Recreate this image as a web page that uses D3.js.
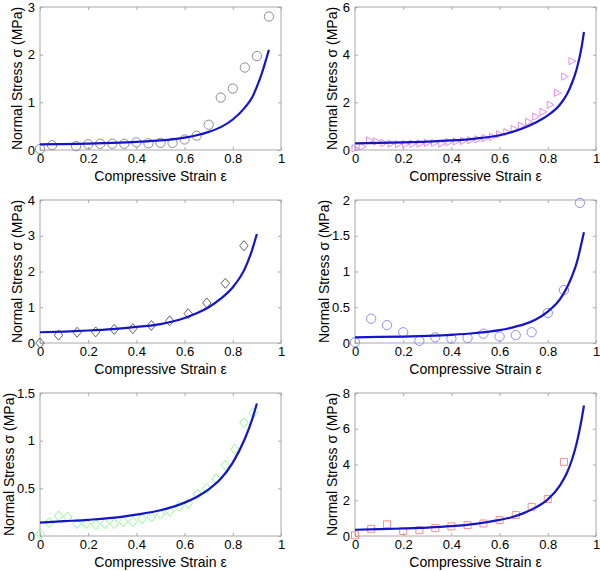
<!DOCTYPE html>
<html><head><meta charset="utf-8">
<script src="https://cdn.jsdelivr.net/npm/d3@7"></script>
<style>body{margin:0;background:#fff}svg{display:block}text{font-family:"Liberation Sans",Arial,sans-serif;fill:#000}</style>
</head><body><svg id="c" width="600" height="571"></svg>
<script>
const xTicks = [0, 0.2, 0.4, 0.6, 0.8, 1];
const xLabel = "Compressive Strain \u03b5";
const yLabel = "Normal Stress \u03c3 (MPa)";

// Panel 1 (circles, gray)
const p1Strain = [0,0.05,0.15,0.2,0.25,0.3,0.35,0.4,0.45,0.5,0.55,0.6,0.65,0.7,0.75,0.8,0.85,0.9,0.95];
const p1Stress = [0.02,0.1,0.08,0.12,0.13,0.13,0.13,0.16,0.14,0.15,0.15,0.22,0.3,0.53,1.1,1.29,1.73,1.97,2.8];
const p1FitStrain = [0,0.1,0.2,0.3,0.4,0.5,0.6,0.65,0.7,0.75,0.8,0.85,0.88,0.9,0.92,0.94,0.95];
const p1FitStress = [0.12,0.125,0.135,0.15,0.17,0.2,0.26,0.31,0.38,0.48,0.64,0.89,1.1,1.33,1.6,1.93,2.1];
const p1YTicks = [0,1,2,3];

// Panel 2 (right triangles, magenta)
const p2Strain = [0,0.03,0.06,0.09,0.12,0.15,0.18,0.21,0.24,0.27,0.3,0.33,0.36,0.39,0.42,0.45,0.48,0.51,0.54,0.57,0.6,0.63,0.66,0.69,0.72,0.75,0.78,0.81,0.84,0.87,0.9];
const p2Stress = [0.07,0.14,0.4,0.36,0.3,0.27,0.25,0.25,0.26,0.27,0.3,0.3,0.27,0.33,0.36,0.38,0.41,0.45,0.5,0.55,0.66,0.75,0.88,1.02,1.18,1.4,1.6,1.9,2.4,3.08,3.73];
const p2FitStrain = [0,0.1,0.2,0.3,0.4,0.5,0.6,0.65,0.7,0.75,0.8,0.85,0.88,0.9,0.92,0.94,0.95];
const p2FitStress = [0.28,0.3,0.32,0.35,0.4,0.48,0.62,0.75,0.92,1.15,1.45,1.9,2.35,2.8,3.4,4.3,4.95];
const p2YTicks = [0,2,4,6];

// Panel 3 (diamonds, dark gray)
const p3Strain = [0,0.077,0.154,0.231,0.308,0.385,0.462,0.538,0.615,0.692,0.769,0.846];
const p3Stress = [0,0.22,0.3,0.31,0.38,0.4,0.49,0.62,0.82,1.12,1.67,2.72];
const p3FitStrain = [0,0.1,0.2,0.3,0.4,0.5,0.6,0.65,0.7,0.75,0.8,0.85,0.88,0.9];
const p3FitStress = [0.3,0.32,0.35,0.39,0.45,0.53,0.7,0.83,1.0,1.24,1.56,2.08,2.6,3.05];
const p3YTicks = [0,1,2,3,4];

// Panel 4 (circles, blue)
const p4Strain = [0,0.067,0.133,0.2,0.267,0.333,0.4,0.467,0.533,0.6,0.667,0.733,0.8,0.867,0.933];
const p4Stress = [0.01,0.34,0.25,0.15,0.03,0.08,0.06,0.07,0.13,0.09,0.11,0.15,0.42,0.74,1.96];
const p4FitStrain = [0,0.1,0.2,0.3,0.4,0.5,0.6,0.65,0.7,0.75,0.8,0.85,0.88,0.9,0.92,0.94,0.95];
const p4FitStress = [0.08,0.085,0.09,0.1,0.115,0.14,0.18,0.215,0.26,0.33,0.44,0.61,0.78,0.93,1.12,1.4,1.55];
const p4YTicks = [0,0.5,1,1.5,2];

// Panel 5 (diamonds, green)
const p5Strain = [0,0.038,0.077,0.115,0.154,0.192,0.231,0.269,0.308,0.346,0.385,0.423,0.462,0.5,0.538,0.577,0.615,0.654,0.692,0.731,0.769,0.808,0.846,0.885];
const p5Stress = [0.02,0.14,0.21,0.2,0.13,0.13,0.12,0.13,0.13,0.15,0.15,0.18,0.2,0.23,0.26,0.31,0.34,0.44,0.5,0.6,0.74,0.91,1.19,1.29];
const p5FitStrain = [0,0.1,0.2,0.3,0.4,0.5,0.6,0.65,0.7,0.75,0.8,0.85,0.88,0.9];
const p5FitStress = [0.14,0.155,0.17,0.19,0.225,0.27,0.35,0.41,0.49,0.6,0.77,1.02,1.22,1.39];
const p5YTicks = [0,0.5,1,1.5];

// Panel 6 (squares, red)
const p6Strain = [0,0.067,0.133,0.2,0.267,0.333,0.4,0.467,0.533,0.6,0.667,0.733,0.8,0.867];
const p6Stress = [0.04,0.4,0.65,0.28,0.33,0.44,0.54,0.61,0.7,0.89,1.17,1.63,2.07,4.15];
const p6FitStrain = [0,0.1,0.2,0.3,0.4,0.5,0.6,0.65,0.7,0.75,0.8,0.85,0.88,0.9,0.92,0.94,0.95];
const p6FitStress = [0.35,0.38,0.42,0.47,0.55,0.68,0.9,1.05,1.28,1.6,2.05,2.82,3.55,4.25,5.2,6.5,7.3];
const p6YTicks = [0,2,4,6,8];

const panels = [
  {sx:p1Strain, sy:p1Stress, fx:p1FitStrain, fy:p1FitStress, yt:p1YTicks, ymax:3, marker:"circle", color:"#808080", col:0, row:0},
  {sx:p2Strain, sy:p2Stress, fx:p2FitStrain, fy:p2FitStress, yt:p2YTicks, ymax:6, marker:"triRight", color:"#e080e8", col:1, row:0},
  {sx:p3Strain, sy:p3Stress, fx:p3FitStrain, fy:p3FitStress, yt:p3YTicks, ymax:4, marker:"diamond", color:"#505050", col:0, row:1},
  {sx:p4Strain, sy:p4Stress, fx:p4FitStrain, fy:p4FitStress, yt:p4YTicks, ymax:2, marker:"circle", color:"#8080ff", col:1, row:1},
  {sx:p5Strain, sy:p5Stress, fx:p5FitStrain, fy:p5FitStress, yt:p5YTicks, ymax:1.5, marker:"diamond", color:"#80ff80", col:0, row:2},
  {sx:p6Strain, sy:p6Stress, fx:p6FitStrain, fy:p6FitStress, yt:p6YTicks, ymax:8, marker:"square", color:"#ff8080", col:1, row:2}
];

const colX = [40, 355], plotW = 241;
const rowY = [7, 200, 393], plotH = 143;
const svg = d3.select("#c");
const fmt = v => String(v);
const FS = "14px", TFS = "13px";

function markerPath(type) {
  if (type === "circle") return d3.symbol(d3.symbolCircle, 68)();
  if (type === "square") return "M-3.5,-3.5H3.5V3.5H-3.5Z";
  if (type === "diamond") return "M0,-5L4.2,0L0,5L-4.2,0Z";
  if (type === "triRight") return "M-3,-3.6L3.8,0L-3,3.6Z";
}

panels.forEach(p => {
  const x0 = colX[p.col], y0 = rowY[p.row];
  const x = d3.scaleLinear().domain([0,1]).range([x0, x0+plotW]);
  const y = d3.scaleLinear().domain([0,p.ymax]).range([y0+plotH, y0]);
  const g = svg.append("g");
  g.append("rect").attr("x", x0).attr("y", y0).attr("width", plotW).attr("height", plotH)
    .attr("fill","none").attr("stroke","#a8a8a8").attr("stroke-width",1);
  const axB = d3.axisBottom(x).tickValues(xTicks).tickFormat(fmt).tickSizeInner(-3).tickSizeOuter(0).tickPadding(4);
  const axT = d3.axisTop(x).tickValues(xTicks).tickFormat("").tickSizeInner(-3).tickSizeOuter(0);
  const axL = d3.axisLeft(y).tickValues(p.yt).tickFormat(fmt).tickSizeInner(-3).tickSizeOuter(0).tickPadding(5);
  const axR = d3.axisRight(y).tickValues(p.yt).tickFormat("").tickSizeInner(-3).tickSizeOuter(0);
  [[axB,"translate(0,"+(y0+plotH)+")"],[axT,"translate(0,"+y0+")"],[axL,"translate("+x0+",0)"],[axR,"translate("+(x0+plotW)+",0)"]]
    .forEach(([ax,tr]) => {
      const a = g.append("g").attr("transform", tr).call(ax);
      a.select(".domain").remove();
      a.selectAll(".tick line").attr("stroke","#a8a8a8");
      a.selectAll("text").style("font-size",TFS).style("font-family","'Liberation Sans',Arial,sans-serif").attr("fill","#000");
    });
  const decimal = p.yt.some(v => String(v).length > 1);
  const yOff = decimal ? 26 : 18;
  g.append("text").attr("x", x0+plotW/2).attr("y", y0+plotH+31).attr("text-anchor","middle")
    .style("font-size",FS).text(xLabel);
  g.append("text").attr("transform","translate("+(x0-yOff)+","+(y0+plotH/2)+") rotate(-90)")
    .attr("text-anchor","middle").style("font-size",FS).text(yLabel);
  const pts = p.sx.map((v,i)=>[v,p.sy[i]]);
  g.selectAll("path.m").data(pts).enter().append("path").attr("class","m")
    .attr("d", markerPath(p.marker))
    .attr("transform", d=>"translate("+x(d[0])+","+y(d[1])+")")
    .attr("fill","none").attr("stroke",p.color).attr("stroke-width",0.9);
  const fit = p.fx.map((v,i)=>[v,p.fy[i]]);
  g.append("path").datum(fit)
    .attr("d", d3.line().x(d=>x(d[0])).y(d=>y(d[1])).curve(d3.curveMonotoneX))
    .attr("fill","none").attr("stroke","#1414c8").attr("stroke-width",2.2);
});
</script></body></html>
